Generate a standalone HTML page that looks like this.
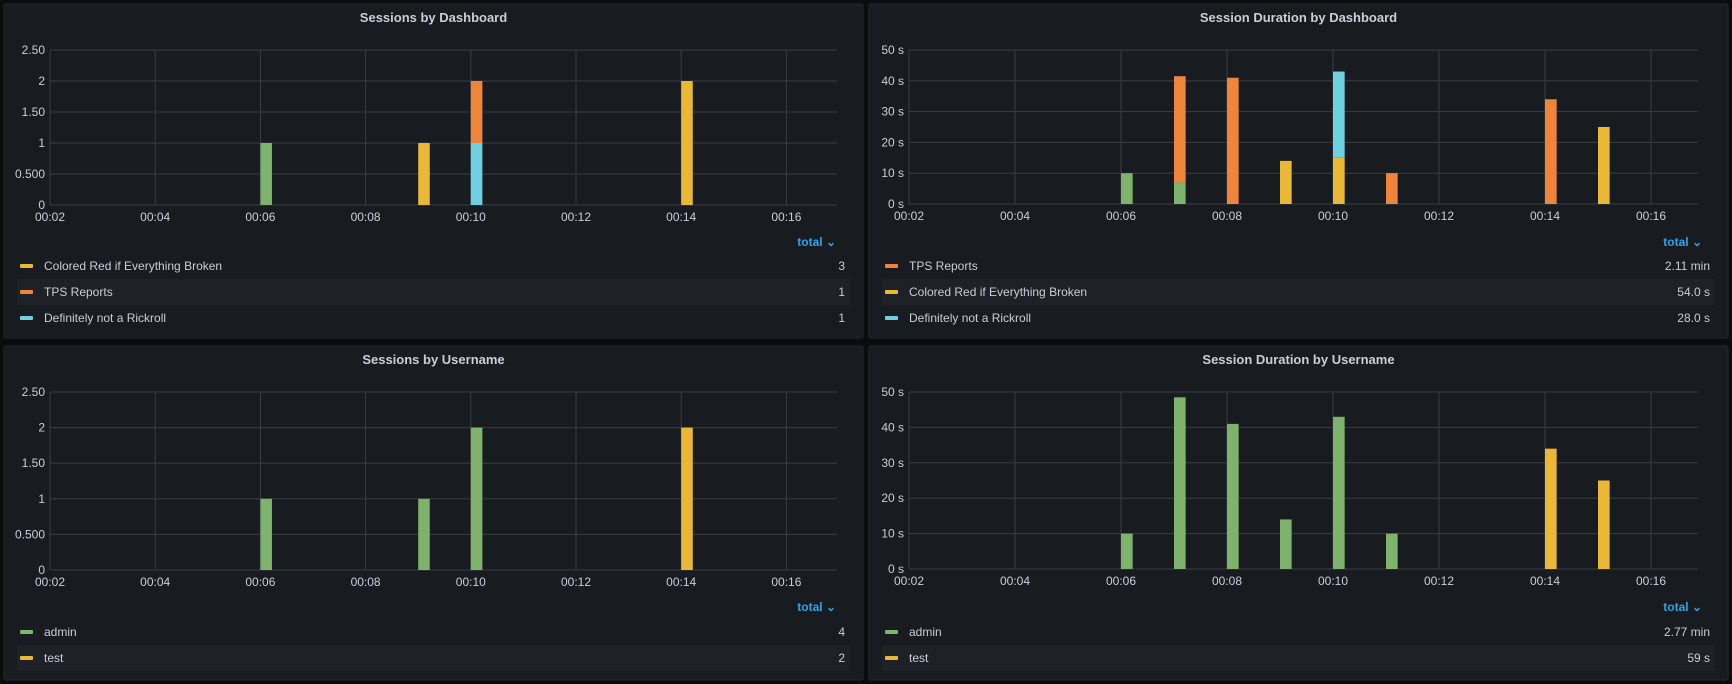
<!DOCTYPE html>
<html><head><meta charset="utf-8">
<style>
html,body{margin:0;padding:0;background:#0b0c0e;}
svg{display:block;font-family:"Liberation Sans",sans-serif;}
</style></head>
<body>
<svg id="c" width="1732" height="684"></svg>
<script>
const times = [6,7,8,9,10,11,14,15];
// Panel 1: Sessions by Dashboard (count)
const p1Green = [1,0,0,0,0,0,0,0];
const p1Yellow = [0,0,0,1,0,0,2,0];
const p1Cyan = [0,0,0,0,1,0,0,0];
const p1Orange = [0,0,0,0,1,0,0,0];
// Panel 2: Session Duration by Dashboard (s)
const p2Green = [10,7,0,0,0,0,0,0];
const p2Orange = [0,34.5,41,0,0,10,34,0];
const p2Yellow = [0,0,0,14,15,0,0,25];
const p2Cyan = [0,0,0,0,28,0,0,0];
// Panel 3: Sessions by Username
const p3Admin = [1,0,0,1,2,0,0,0];
const p3Test = [0,0,0,0,0,0,2,0];
// Panel 4: Session Duration by Username
const p4Admin = [10,48.5,41,14,43,10,0,0];
const p4Test = [0,0,0,0,0,0,34,25];
const countTicks = [0,0.5,1,1.5,2,2.5];
const countTickLabels = ["0","0.500","1","1.50","2","2.50"];
const secTicks = [0,10,20,30,40,50];
const secTickLabels = ["0 s","10 s","20 s","30 s","40 s","50 s"];
const xTicks = [2,4,6,8,10,12,14,16];
const xTickLabels = ["00:02","00:04","00:06","00:08","00:10","00:12","00:14","00:16"];
const legend1 = [["Colored Red if Everything Broken","3","#eab839"],["TPS Reports","1","#ef843c"],["Definitely not a Rickroll","1","#6ed0e0"]];
const legend2 = [["TPS Reports","2.11 min","#ef843c"],["Colored Red if Everything Broken","54.0 s","#eab839"],["Definitely not a Rickroll","28.0 s","#6ed0e0"]];
const legend3 = [["admin","4","#7eb26d"],["test","2","#eab839"]];
const legend4 = [["admin","2.77 min","#7eb26d"],["test","59 s","#eab839"]];

const C={green:"#7eb26d",yellow:"#eab839",orange:"#ef843c",cyan:"#6ed0e0"};
const NS="http://www.w3.org/2000/svg";
const svg=document.getElementById('c');
function el(tag,attrs,parent,text){const e=document.createElementNS(NS,tag);for(const k in attrs)e.setAttribute(k,attrs[k]);if(text!==undefined)e.textContent=text;(parent||svg).appendChild(e);return e;}

function panel(cfg){
  const g=el('g',{});
  
  
  const bg=el('rect',{x:cfg.px,y:cfg.py,width:cfg.pw,height:cfg.ph,fill:'#181b1f',stroke:'#24272d',rx:2},g);
  
  
  const t=el('text',{x:cfg.px+cfg.pw/2,y:cfg.py+18,'text-anchor':'middle',fill:'#ccccdc','font-size':13,'font-weight':'bold'},g,cfg.title);
  
  
  const x0=cfg.x0,ppm=cfg.ppm,top=cfg.top,bot=cfg.bot,right=cfg.right,max=cfg.max;
  const xs=m=>x0+(m-2)*ppm;
  const ys=v=>bot-(v/max)*(bot-top);
  cfg.yTicks.forEach((v,i)=>{
    const l=el('line',{x1:x0,x2:right,y1:ys(v),y2:ys(v),stroke:'#3a3d42','stroke-width':1},g);
    
    
    const tx=el('text',{x:x0-5,y:ys(v)+4,'text-anchor':'end',fill:'#ccccdc','font-size':12},g,cfg.yLabels[i]);
    
    
  });
  xTicks.forEach((m,i)=>{
    const l=el('line',{x1:xs(m),x2:xs(m),y1:top,y2:bot,stroke:'#3a3d42','stroke-width':1},g);
    
    
    const tx=el('text',{x:xs(m),y:bot+16,'text-anchor':'middle',fill:'#ccccdc','font-size':12},g,xTickLabels[i]);
    
    
  });
  const bw=ppm*0.22;
  times.forEach((m,i)=>{
    let acc=0;
    cfg.series.forEach(s=>{
      const v=s.data[i]; if(!v)return;
      const r=el('rect',{x:xs(m),y:ys(acc+v),width:bw,height:ys(acc)-ys(acc+v),fill:s.color},g);
      
      
      acc+=v;
    });
  });
  const tot=el('text',{x:cfg.totalX,y:cfg.totalY,'text-anchor':'end',fill:'#33a2e5','font-size':12,'font-weight':'bold'},g,'total ⌄');
  
  
  cfg.legend.forEach((it,i)=>{
    const cy=cfg.legY+i*26;
    if(i%2===1){const a=el('rect',{x:cfg.px+13,y:cy-13,width:cfg.pw-26,height:26,fill:'#1e2126'},g);
      
      }
    const sw=el('rect',{x:cfg.px+16,y:cy-2,width:13,height:4,fill:it[2],rx:1},g);
    
    
    const n=el('text',{x:cfg.px+40,y:cy+4,fill:'#ccccdc','font-size':12},g,it[0]);
    
    
    const v=el('text',{x:cfg.px+cfg.pw-18,y:cy+4,'text-anchor':'end',fill:'#ccccdc','font-size':12},g,it[1]);
    
    
  });
}
panel({name:'sessions-by-dashboard',title:'Sessions by Dashboard',px:4,py:4,pw:859,ph:334,x0:50,ppm:52.6,top:50,bot:205,right:837,max:2.5,yTicks:countTicks,yLabels:countTickLabels,
 series:[{key:'green',data:p1Green,color:C.green},{key:'yellow',data:p1Yellow,color:C.yellow},{key:'cyan',data:p1Cyan,color:C.cyan},{key:'orange',data:p1Orange,color:C.orange}],
 legend:legend1,totalX:836,totalY:246,legY:266});
panel({name:'session-duration-by-dashboard',title:'Session Duration by Dashboard',px:869,py:4,pw:859,ph:334,x0:909,ppm:53,top:50,bot:204,right:1698,max:50,yTicks:secTicks,yLabels:secTickLabels,
 series:[{key:'green',data:p2Green,color:C.green},{key:'yellow',data:p2Yellow,color:C.yellow},{key:'orange',data:p2Orange,color:C.orange},{key:'cyan',data:p2Cyan,color:C.cyan}],
 legend:legend2,totalX:1702,totalY:246,legY:266});
panel({name:'sessions-by-username',title:'Sessions by Username',px:4,py:346,pw:859,ph:334,x0:50,ppm:52.6,top:392,bot:570,right:837,max:2.5,yTicks:countTicks,yLabels:countTickLabels,
 series:[{key:'admin',data:p3Admin,color:C.green},{key:'test',data:p3Test,color:C.yellow}],
 legend:legend3,totalX:836,totalY:611,legY:632});
panel({name:'session-duration-by-username',title:'Session Duration by Username',px:869,py:346,pw:859,ph:334,x0:909,ppm:53,top:392,bot:569,right:1698,max:50,yTicks:secTicks,yLabels:secTickLabels,
 series:[{key:'admin',data:p4Admin,color:C.green},{key:'test',data:p4Test,color:C.yellow}],
 legend:legend4,totalX:1702,totalY:611,legY:632});
</script>
</body></html>
